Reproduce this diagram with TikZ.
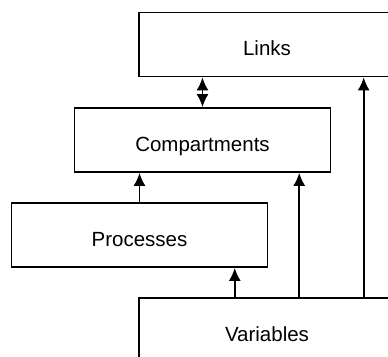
\documentclass[tikz,border=0pt]{standalone}
\usepackage{fontspec}
\setmainfont{Liberation Sans}
\usetikzlibrary{arrows.meta}
\usetikzlibrary{calc}

\begin{document}
\begin{tikzpicture}[x=1pt,y=1pt,
	box/.style={rectangle,draw,line width=1.8pt,minimum width=256pt,minimum height=64pt,inner sep=0pt,text height=22pt,text depth=0pt,font=\fontsize{20.5}{24}\selectfont},
	link/.style={line width=1.7pt,-{Latex[length=13pt,width=12pt]}}
	]
	\useasboundingbox (0,0) rectangle (388,-356);
	\clip (0,0) rectangle (388,-356);
	\node[box](links) at (267,-44.5){Links};
	\node[box](comp) at (202.5,-140){Compartments};
	\node[box](proc) at (139.5,-235){Processes};
	\node[box](vars) at (267,-330){Variables};
	% feet of the arrows on top of the variables
	\coordinate (v1) at ($(vars.north west)!0.375!(vars.north east)$);
	\coordinate (v2) at ($(vars.north west)!0.625!(vars.north east)$);
	\coordinate (v3) at ($(vars.north west)!0.875!(vars.north east)$);
	\draw[link,{Latex[length=13pt,width=12pt]}-{Latex[length=13pt,width=12pt]}] (comp.north) -- (comp.north |- links.south);
	\draw[link] (proc.north) -- (proc.north |- comp.south);
	\draw[link] (v1) -- (v1 |- proc.south);
	\draw[link] (v2) -- (v2 |- comp.south);
	\draw[link] (v3) -- (v3 |- links.south);
\end{tikzpicture}
\end{document}
